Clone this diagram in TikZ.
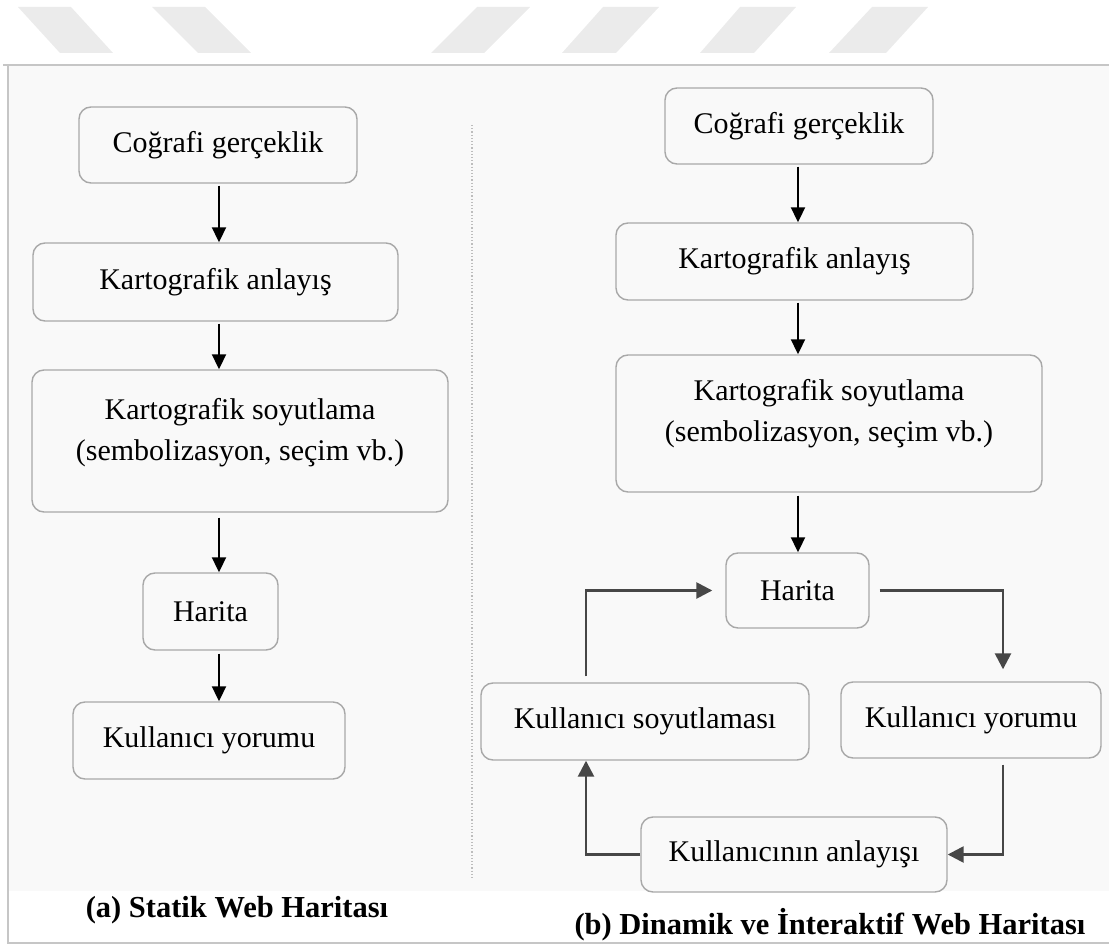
\documentclass[tikz,border=0pt]{standalone}
\usepackage{fontspec}
\setmainfont{Liberation Serif}
\usetikzlibrary{arrows.meta}
\definecolor{stripe}{HTML}{EBEBEB}
\definecolor{panel}{HTML}{F9F9F9}
\definecolor{framegray}{HTML}{C6C6C6}
\definecolor{boxline}{HTML}{A8A8A8}
\definecolor{loopline}{HTML}{474747}
\definecolor{divider}{HTML}{BDBDBD}

\begin{document}
\begin{tikzpicture}[x=1pt,y=-1pt,
  box/.style={draw=boxline, line width=1.4pt, rounded corners=12pt, fill=panel,
    inner sep=0pt, align=center, font=\fontsize{30}{41}\selectfont},
  boxtext/.style={inner sep=0pt, align=center, font=\fontsize{30}{41}\selectfont},
  flow/.style={draw=black, line width=2pt, -{Triangle[width=14pt,length=15pt]}},
  loop/.style={draw=loopline, line width=2.6pt, -{Triangle[width=16pt,length=16pt]}},
  caption/.style={inner sep=0pt, font=\fontsize{30.5}{36}\selectfont\bfseries}
]
\useasboundingbox (0,0) rectangle (1109,944);

% decorative stripes along the top edge
\fill[stripe] (18,7) -- (71,7) -- (113,53) -- (60,53) -- cycle;
\fill[stripe] (152,7) -- (205,7) -- (251,53) -- (198,53) -- cycle;
\fill[stripe] (477,7) -- (530,7) -- (484,53) -- (431,53) -- cycle;
\fill[stripe] (603,7) -- (659,7) -- (616,53) -- (562,53) -- cycle;
\fill[stripe] (740,7) -- (796,7) -- (754,53) -- (700,53) -- cycle;
\fill[stripe] (872,7) -- (928,7) -- (886,53) -- (829,53) -- cycle;

% panel and frame
\fill[panel] (8,65) rectangle (1109,891);
\draw[framegray, line width=2pt] (3,65) -- (1109,65);
\draw[framegray, line width=1.5pt] (8,65) -- (8,943) -- (1109,943);
\draw[divider, line width=1.2pt, dotted] (472,125) -- (472,880);

% (a) static web map
\node[box, minimum width=278pt, minimum height=76pt] (lc1) at (218,145) {Coğrafi gerçeklik};
\node[box, minimum width=365pt, minimum height=78pt] (lc2) at (215.5,282) {Kartografik anlayış};
\node[box, minimum width=416pt, minimum height=142pt] (lc3) at (240,441) {};
\node[boxtext] (lc3t) at ([yshift=8.5pt]lc3.center) {Kartografik soyutlama\\(sembolizasyon, seçim vb.)};
\node[box, minimum width=135pt, minimum height=77pt] (lc4) at (210.5,611.5) {Harita};
\node[box, minimum width=272pt, minimum height=77pt] (lc5) at (209,740.5) {Kullanıcı yorumu};

\coordinate (axL) at (219,0);
\draw[flow] ([yshift=-2pt]lc1.south -| axL) -- (lc2.north -| axL);
\draw[flow] ([yshift=-2pt]lc2.south -| axL) -- (lc3.north -| axL);
\draw[flow] ([yshift=-5pt]lc3.south -| axL) -- (lc4.north -| axL);
\draw[flow] ([yshift=-3pt]lc4.south -| axL) -- (lc5.north -| axL);

\node[caption] (capA) at (237,910) {(a) Statik Web Haritası};

% (b) dynamic and interactive web map
\node[box, minimum width=268pt, minimum height=76pt] (rc1) at (799,126) {Coğrafi gerçeklik};
\node[box, minimum width=357pt, minimum height=77pt] (rc2) at (794.5,261.5) {Kartografik anlayış};
\node[box, minimum width=426pt, minimum height=137pt] (rc3) at (829,423.5) {};
\node[boxtext] (rc3t) at ([yshift=9.5pt]rc3.center) {Kartografik soyutlama\\(sembolizasyon, seçim vb.)};
\node[box, minimum width=143pt, minimum height=75pt] (rc4) at (797.5,590.5) {Harita};
\node[box, minimum width=328pt, minimum height=77pt] (rc5) at (645,721.5) {Kullanıcı soyutlaması};
\node[box, minimum width=260pt, minimum height=76pt] (rc6) at (971,720) {Kullanıcı yorumu};
\node[box, minimum width=306pt, minimum height=75pt] (rc7) at (794,854.5) {Kullanıcının anlayışı};

\coordinate (axR) at (798,0);
\draw[flow] ([yshift=-2pt]rc1.south -| axR) -- (rc2.north -| axR);
\draw[flow] ([yshift=-2pt]rc2.south -| axR) -- (rc3.north -| axR);
\draw[flow] ([yshift=-3pt]rc3.south -| axR) -- (rc4.north -| axR);

\coordinate (lpL) at (586,0);
\coordinate (lpR) at (1003,0);
\draw[loop, shorten >=13pt] ([yshift=6pt]rc5.north -| lpL) |- (rc4.west);
\draw[loop, shorten <=10pt, shorten >=12pt] (rc4.east) -| (rc6.north -| lpR);
\draw[loop] ([yshift=-6pt]rc6.south -| lpR) |- (rc7.east);
\draw[loop] (rc7.west) -| (rc5.south -| lpL);

\node[caption] (capB) at (830,925) {(b) Dinamik ve İnteraktif Web Haritası};
\end{tikzpicture}
\end{document}
